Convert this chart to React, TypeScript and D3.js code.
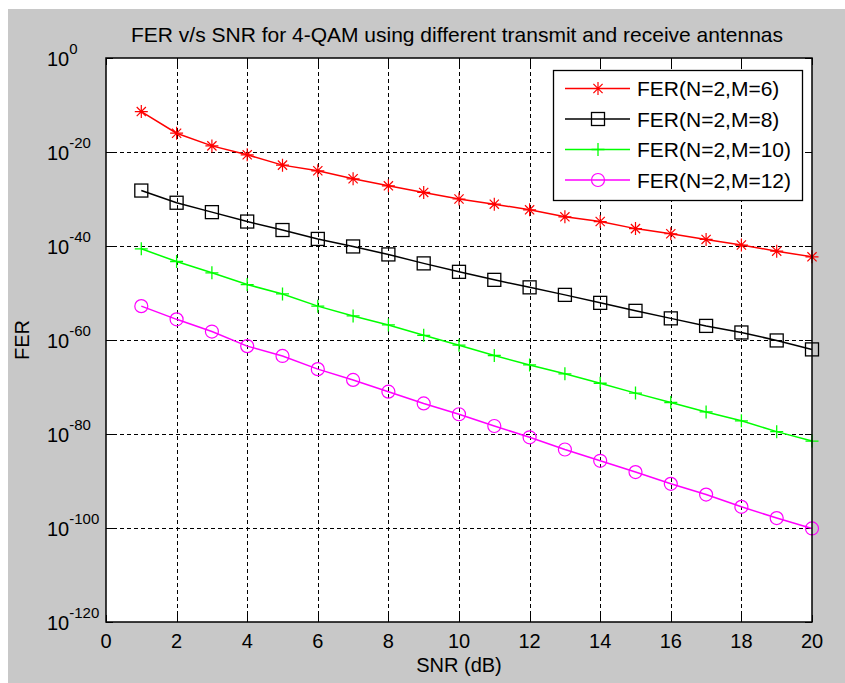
import React, { useEffect, useRef } from "react";
import * as d3 from "d3";

// SNR points (dB)
const snrDb = [1, 2, 3, 4, 5, 6, 7, 8, 9, 10, 11, 12, 13, 14, 15, 16, 17, 18, 19, 20];

// FER for each receive antenna count
const ferM6 = [4.0e-12, 1.0e-16, 2.0e-19, 2.5e-21, 1.6e-23, 1.0e-24, 2.0e-26, 6.3e-28, 2.5e-29, 1.0e-30,
  8.0e-32, 5.0e-33, 1.6e-34, 1.6e-35, 5.0e-37, 4.0e-38, 2.5e-39, 1.6e-40, 8.0e-42, 5.0e-43];
const ferM8 = [6.3e-29, 1.6e-31, 1.6e-33, 1.6e-35, 2.5e-37, 3.2e-39, 8.0e-41, 1.6e-42, 2.0e-44, 3.2e-46,
  6.3e-48, 1.6e-49, 4.0e-51, 8.0e-53, 1.6e-54, 4.0e-56, 1.0e-57, 4.0e-59, 8.0e-61, 1.0e-62];
const ferM10 = [2.5e-41, 5.0e-44, 2.0e-46, 6.3e-49, 6.3e-51, 1.6e-53, 1.3e-55, 1.6e-57, 1.0e-59, 8.0e-62,
  5.0e-64, 5.0e-66, 6.3e-68, 6.3e-70, 5.0e-72, 5.0e-74, 5.0e-76, 6.3e-78, 3.2e-80, 3.2e-82];
const ferM12 = [1.6e-53, 2.5e-56, 6.3e-59, 5.0e-62, 4.0e-64, 6.3e-67, 3.2e-69, 1.0e-71, 3.2e-74, 1.6e-76,
  5.0e-79, 2.0e-81, 5.0e-84, 2.0e-86, 8.0e-89, 2.5e-91, 1.3e-93, 3.2e-96, 1.3e-98, 8.0e-101];

const seriesNames = ["FER(N=2,M=6)", "FER(N=2,M=8)", "FER(N=2,M=10)", "FER(N=2,M=12)"];
const seriesColors = ["#ff0000", "#000000", "#00ff00", "#ff00ff"];
const seriesMarkers = ["star", "square", "plus", "circle"];

const xTicks = [0, 2, 4, 6, 8, 10, 12, 14, 16, 18, 20];
const yTickExps = [0, -20, -40, -60, -80, -100, -120];

const titleText = "FER v/s SNR for 4-QAM using different transmit and receive antennas";
const xLabel = "SNR (dB)";
const yLabel = "FER";

const FONT = "Arial, 'Liberation Sans', sans-serif";

// snap 1px lines onto the pixel grid
const px = (v: number) => Math.round(v) + 0.5;

function drawMarker(g: any, kind: string, x: number, y: number, color: string) {
  const r = 6.5;
  if (kind === "star") {
    const d = 4.6;
    g.append("path")
      .attr("d", `M${x - r},${y}H${x + r}M${x},${y - r}V${y + r}M${x - d},${y - d}L${x + d},${y + d}M${x - d},${y + d}L${x + d},${y - d}`)
      .attr("stroke", color).attr("stroke-width", 1.2).attr("fill", "none");
  } else if (kind === "plus") {
    g.append("path")
      .attr("d", `M${x - r},${y}H${x + r}M${x},${y - r}V${y + r}`)
      .attr("stroke", color).attr("stroke-width", 1.3).attr("fill", "none");
  } else if (kind === "square") {
    g.append("rect")
      .attr("x", x - r).attr("y", y - r).attr("width", 2 * r).attr("height", 2 * r)
      .attr("stroke", color).attr("stroke-width", 1.3).attr("fill", "none");
  } else {
    g.append("circle")
      .attr("cx", x).attr("cy", y).attr("r", r)
      .attr("stroke", color).attr("stroke-width", 1.2).attr("fill", "none");
  }
}

export default function App() {
  const ref = useRef<SVGSVGElement | null>(null);

  useEffect(() => {
    const svg = d3.select(ref.current);
    svg.selectAll("*").remove();

    const width = 845;
    const height = 683;
    const left = 106, right = 812, top = 58, bottom = 622;

    svg.append("rect").attr("width", width).attr("height", height).attr("fill", "#ffffff");
    svg.append("rect").attr("x", 8).attr("y", 9).attr("width", width - 8).attr("height", height - 9).attr("fill", "#c8c8c8");
    svg.append("rect").attr("x", left).attr("y", top).attr("width", right - left).attr("height", bottom - top).attr("fill", "#ffffff");

    const xScale = d3.scaleLinear().domain([0, 20]).range([left, right]);
    const yScale = d3.scaleLog().domain([1e-120, 1]).range([bottom, top]);

    // grid
    const grid = svg.append("g").attr("stroke", "#000").attr("stroke-width", 1).attr("stroke-dasharray", "4,3")
      .attr("shape-rendering", "crispEdges");
    xTicks.slice(1, -1).forEach(t => {
      const x = px(xScale(t));
      grid.append("line").attr("x1", x).attr("x2", x).attr("y1", top).attr("y2", bottom);
    });
    yTickExps.slice(1, -1).forEach(e => {
      const y = px(yScale(Math.pow(10, e)));
      grid.append("line").attr("x1", left).attr("x2", right).attr("y1", y).attr("y2", y);
    });

    // ticks on all four sides
    const ticks = svg.append("g").attr("stroke", "#000").attr("stroke-width", 1).attr("shape-rendering", "crispEdges");
    const tl = 7;
    xTicks.forEach(t => {
      const x = px(xScale(t));
      ticks.append("line").attr("x1", x).attr("x2", x).attr("y1", bottom).attr("y2", bottom - tl);
      ticks.append("line").attr("x1", x).attr("x2", x).attr("y1", top).attr("y2", top + tl);
    });
    yTickExps.forEach(e => {
      const y = px(yScale(Math.pow(10, e)));
      ticks.append("line").attr("x1", left).attr("x2", left + tl).attr("y1", y).attr("y2", y);
      ticks.append("line").attr("x1", right).attr("x2", right - tl).attr("y1", y).attr("y2", y);
    });

    // series
    const allSeries = [ferM6, ferM8, ferM10, ferM12];
    allSeries.forEach((vals, i) => {
      const pts = snrDb.map((s, j) => [s, vals[j]] as [number, number]);
      const line = d3.line<[number, number]>().x(d => xScale(d[0])).y(d => yScale(d[1]));
      svg.append("path").datum(pts)
        .attr("fill", "none").attr("stroke", seriesColors[i]).attr("stroke-width", 1.5)
        .attr("d", line);
      const mg = svg.append("g");
      pts.forEach(p => drawMarker(mg, seriesMarkers[i], xScale(p[0]), yScale(p[1]), seriesColors[i]));
    });

    // axes box
    svg.append("rect").attr("x", left).attr("y", top).attr("width", right - left).attr("height", bottom - top)
      .attr("fill", "none").attr("stroke", "#000").attr("stroke-width", 1.5);

    // x tick labels
    xTicks.forEach(t => {
      svg.append("text").attr("x", xScale(t)).attr("y", 648)
        .attr("text-anchor", "middle").attr("font-family", FONT).attr("font-size", 20).attr("fill", "#000")
        .text(String(t));
    });

    // y tick labels 10^e
    yTickExps.forEach(e => {
      const y = yScale(Math.pow(10, e));
      const txt = svg.append("text").attr("x", 47).attr("y", y + 8)
        .attr("font-family", FONT).attr("font-size", 20).attr("fill", "#000");
      txt.append("tspan").text("10");
      txt.append("tspan").attr("dy", -12).attr("font-size", 15).text(String(e));
    });

    // title and labels
    svg.append("text").attr("x", 457).attr("y", 42).attr("text-anchor", "middle")
      .attr("font-family", FONT).attr("font-size", 21).attr("fill", "#000").text(titleText);
    svg.append("text").attr("x", 459).attr("y", 672).attr("text-anchor", "middle")
      .attr("font-family", FONT).attr("font-size", 20).attr("fill", "#000").text(xLabel);
    svg.append("text").attr("transform", "translate(29,340) rotate(-90)").attr("text-anchor", "middle")
      .attr("font-family", FONT).attr("font-size", 20).attr("fill", "#000").text(yLabel);

    // legend
    const lg = svg.append("g");
    lg.append("rect").attr("x", 553.5).attr("y", 70.5).attr("width", 249).attr("height", 130)
      .attr("fill", "#fff").attr("stroke", "#000").attr("stroke-width", 1.3);
    seriesNames.forEach((name, i) => {
      const cy = 88.5 + i * 30.5;
      lg.append("line").attr("x1", 565).attr("x2", 630).attr("y1", cy).attr("y2", cy)
        .attr("stroke", seriesColors[i]).attr("stroke-width", 1.5);
      drawMarker(lg, seriesMarkers[i], 598, cy, seriesColors[i]);
      lg.append("text").attr("x", 637).attr("y", cy + 7.5)
        .attr("font-family", FONT).attr("font-size", 21).attr("fill", "#000").text(name);
    });
  }, []);

  return (
    <svg ref={ref} width={845} height={683} style={{ position: "absolute", left: 0, top: 0, display: "block" }} />
  );
}
